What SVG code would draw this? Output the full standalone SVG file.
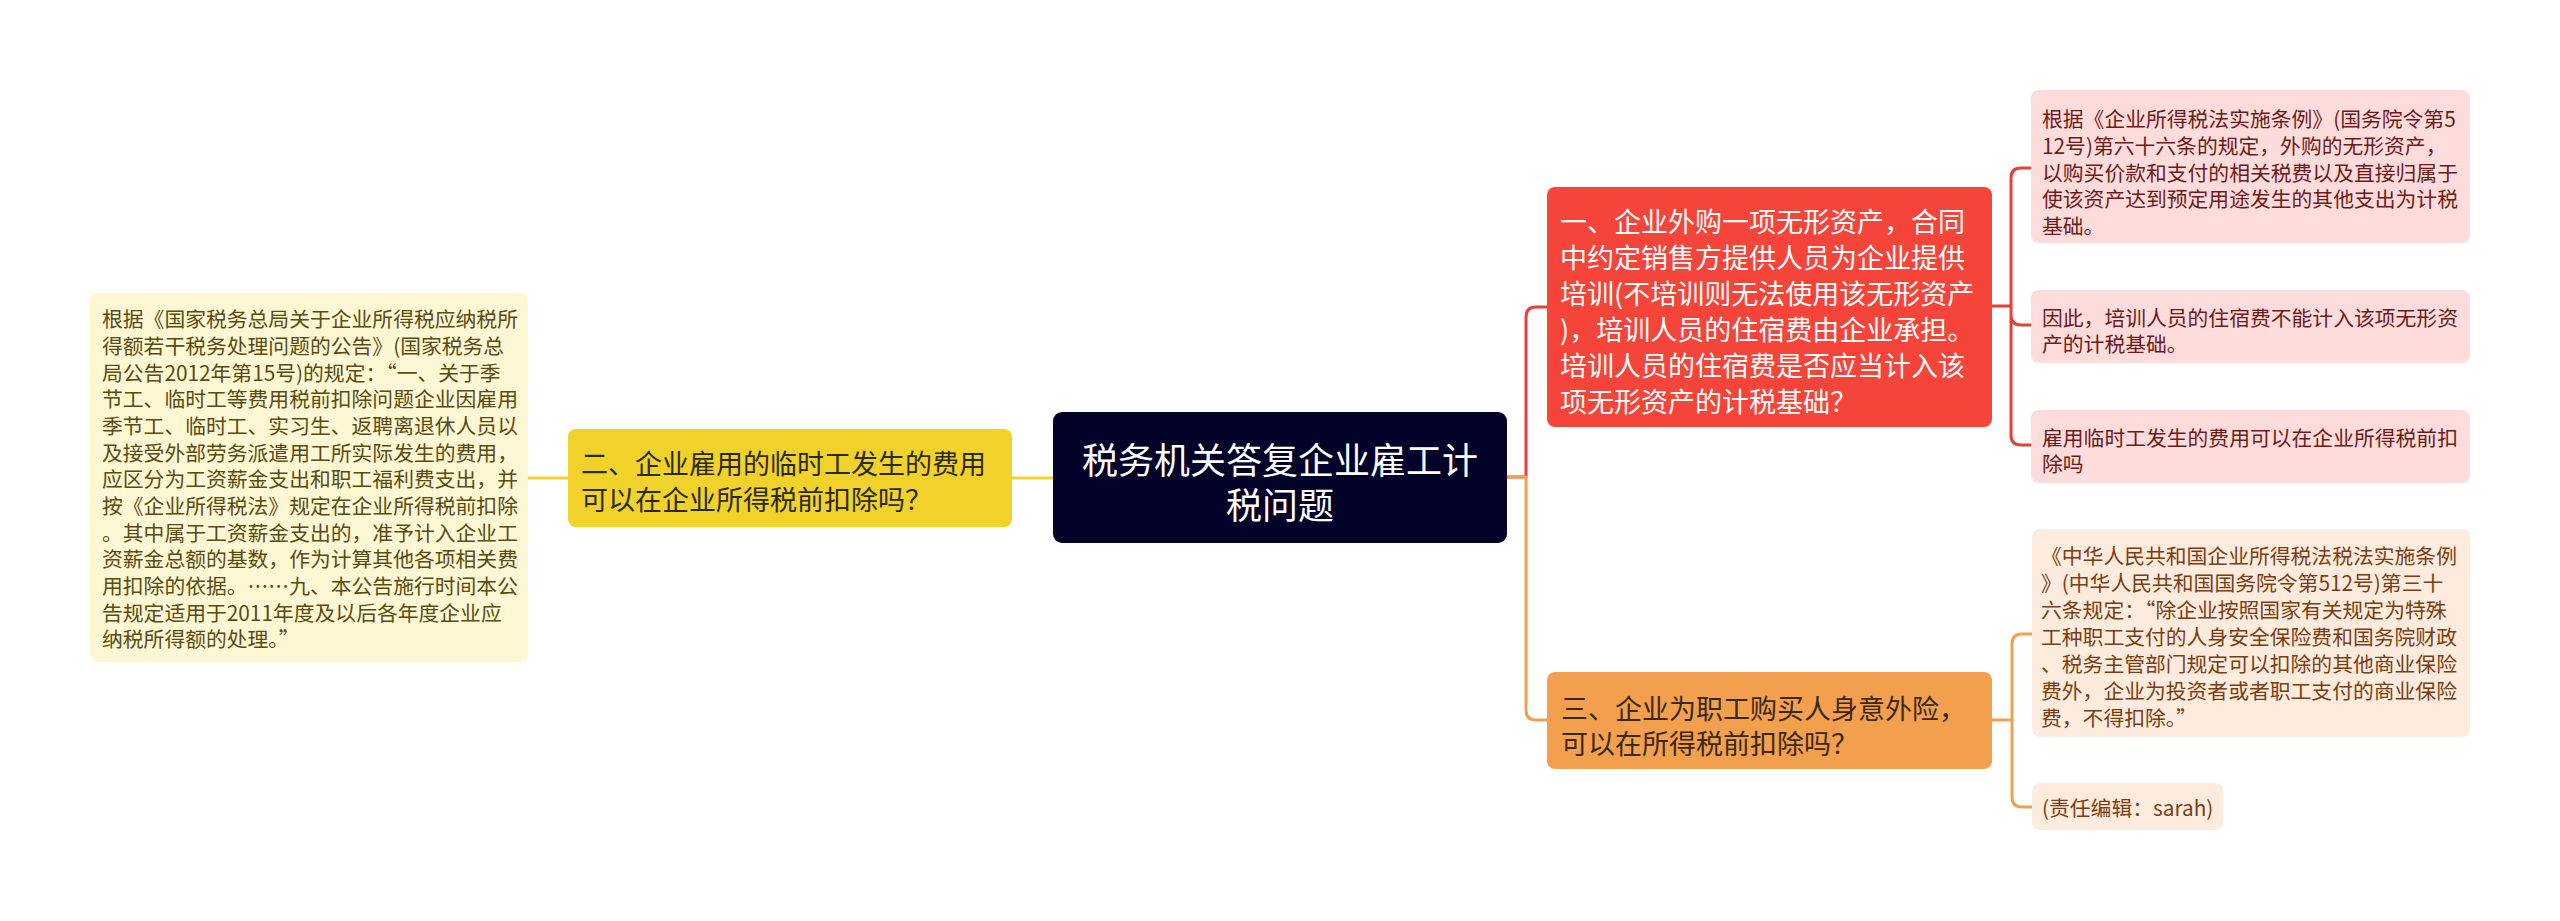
<svg xmlns="http://www.w3.org/2000/svg" width="2560" height="921" viewBox="0 0 2560 921">
<style>
  text { font-family: "Noto Sans CJK SC", "Noto Sans", sans-serif; dominant-baseline: central; }
  .c { fill: none; stroke-width: 3; stroke-linecap: round; stroke-linejoin: round; }
  .cy { stroke: #F1D22A; }
  .cr { stroke: #E5403A; }
  .co { stroke: #F0A050; }
  .t27 { font-size: 27px; }
  .t21 { font-size: 20.8px; }
</style>
<rect width="2560" height="921" fill="#FFFFFF"/>

<g id="connectors">
  <path class="c cy" d="M1012 478 H1053"/>
  <path class="c cy" d="M528 478 H568"/>
  <path class="c cr" d="M1507 477 H1526 V317 Q1526 307 1536 307 H1547"/>
  <path class="c co" d="M1507 477 H1526 V710 Q1526 720 1536 720 H1547"/>
  <path class="c cr" d="M1992 306 H2011 M2011 306 V178 Q2011 168 2021 168 H2031 M2011 306 V315 Q2011 325 2021 325 H2031 M2011 306 V435 Q2011 445 2021 445 H2031"/>
  <path class="c co" d="M1992 720 H2012 M2012 720 V644 Q2012 634 2022 634 H2032 M2012 720 V797 Q2012 807 2022 807 H2032"/>
</g>

<g id="root">
  <rect x="1053" y="412" width="454" height="131" rx="9" fill="#03032A"/>
  <text font-size="36" fill="#FFFFFF" text-anchor="middle"><tspan x="1280" y="458">税务机关答复企业雇工计</tspan><tspan x="1280" y="503">税问题</tspan></text>
</g>

<g id="node-2">
  <rect x="568" y="429" width="444" height="98" rx="8" fill="#F1D22A"/>
  <text class="t27" x="581" y="462" fill="#2B2A10">二、企业雇用的临时工发生的费用</text>
  <text class="t27" x="581" y="498" fill="#2B2A10">可以在企业所得税前扣除吗？</text>
</g>

<g id="node-2-1">
  <rect x="90" y="293" width="438" height="369" rx="8" fill="#FDF7D4"/>
  <g class="t21" fill="#5A4B12">
    <text x="102" y="318.3">根据《国家税务总局关于企业所得税应纳税所</text>
    <text x="102" y="345">得额若干税务处理问题的公告》(国家税务总</text>
    <text x="102" y="371.6">局公告2012年第15号)的规定：“一、关于季</text>
    <text x="102" y="398.3">节工、临时工等费用税前扣除问题企业因雇用</text>
    <text x="102" y="425">季节工、临时工、实习生、返聘离退休人员以</text>
    <text x="102" y="451.6">及接受外部劳务派遣用工所实际发生的费用，</text>
    <text x="102" y="478.3">应区分为工资薪金支出和职工福利费支出，并</text>
    <text x="102" y="505">按《企业所得税法》规定在企业所得税前扣除</text>
    <text x="102" y="531.6">。其中属于工资薪金支出的，准予计入企业工</text>
    <text x="102" y="558.3">资薪金总额的基数，作为计算其他各项相关费</text>
    <text x="102" y="585">用扣除的依据。……九、本公告施行时间本公</text>
    <text x="102" y="611.6">告规定适用于2011年度及以后各年度企业应</text>
    <text x="102" y="638.3">纳税所得额的处理。”</text>
  </g>
</g>

<g id="node-1">
  <rect x="1547" y="187" width="445" height="240" rx="8" fill="#F5453B"/>
  <g class="t27" fill="#FFFFFF">
    <text x="1560" y="220">一、企业外购一项无形资产，合同</text>
    <text x="1560" y="256">中约定销售方提供人员为企业提供</text>
    <text x="1560" y="292">培训(不培训则无法使用该无形资产</text>
    <text x="1560" y="328">)，培训人员的住宿费由企业承担。</text>
    <text x="1560" y="364">培训人员的住宿费是否应当计入该</text>
    <text x="1560" y="400">项无形资产的计税基础？</text>
  </g>
</g>

<g id="node-1-1">
  <rect x="2031" y="90" width="439" height="153" rx="8" fill="#FDDCDB"/>
  <g class="t21" fill="#6E1A1A">
    <text x="2042" y="118">根据《企业所得税法实施条例》(国务院令第5</text>
    <text x="2042" y="144.8">12号)第六十六条的规定，外购的无形资产，</text>
    <text x="2042" y="171.5">以购买价款和支付的相关税费以及直接归属于</text>
    <text x="2042" y="198.3">使该资产达到预定用途发生的其他支出为计税</text>
    <text x="2042" y="225">基础。</text>
  </g>
</g>

<g id="node-1-2">
  <rect x="2031" y="290" width="439" height="73" rx="8" fill="#FDDCDB"/>
  <g class="t21" fill="#6E1A1A">
    <text x="2042" y="317">因此，培训人员的住宿费不能计入该项无形资</text>
    <text x="2042" y="343">产的计税基础。</text>
  </g>
</g>

<g id="node-1-3">
  <rect x="2031" y="410" width="439" height="73" rx="8" fill="#FDDCDB"/>
  <g class="t21" fill="#6E1A1A">
    <text x="2042" y="437">雇用临时工发生的费用可以在企业所得税前扣</text>
    <text x="2042" y="463">除吗</text>
  </g>
</g>

<g id="node-3">
  <rect x="1547" y="672" width="445" height="97" rx="8" fill="#F3A04E"/>
  <text class="t27" x="1561" y="707" fill="#3A2812">三、企业为职工购买人身意外险，</text>
  <text class="t27" x="1561" y="742" fill="#3A2812">可以在所得税前扣除吗？</text>
</g>

<g id="node-3-1">
  <rect x="2032" y="529" width="438" height="208" rx="8" fill="#FDEBDE"/>
  <g class="t21" fill="#7A3E12">
    <text x="2041" y="555">《中华人民共和国企业所得税法税法实施条例</text>
    <text x="2041" y="582">》(中华人民共和国国务院令第512号)第三十</text>
    <text x="2041" y="609">六条规定：“除企业按照国家有关规定为特殊</text>
    <text x="2041" y="636">工种职工支付的人身安全保险费和国务院财政</text>
    <text x="2041" y="663">、税务主管部门规定可以扣除的其他商业保险</text>
    <text x="2041" y="690">费外，企业为投资者或者职工支付的商业保险</text>
    <text x="2041" y="717">费，不得扣除。”</text>
  </g>
</g>

<g id="node-3-2">
  <rect x="2032" y="783" width="191" height="47" rx="8" fill="#FDEBDE"/>
  <text class="t21" x="2042" y="807" fill="#7A3E12">(责任编辑：sarah)</text>
</g>
</svg>
